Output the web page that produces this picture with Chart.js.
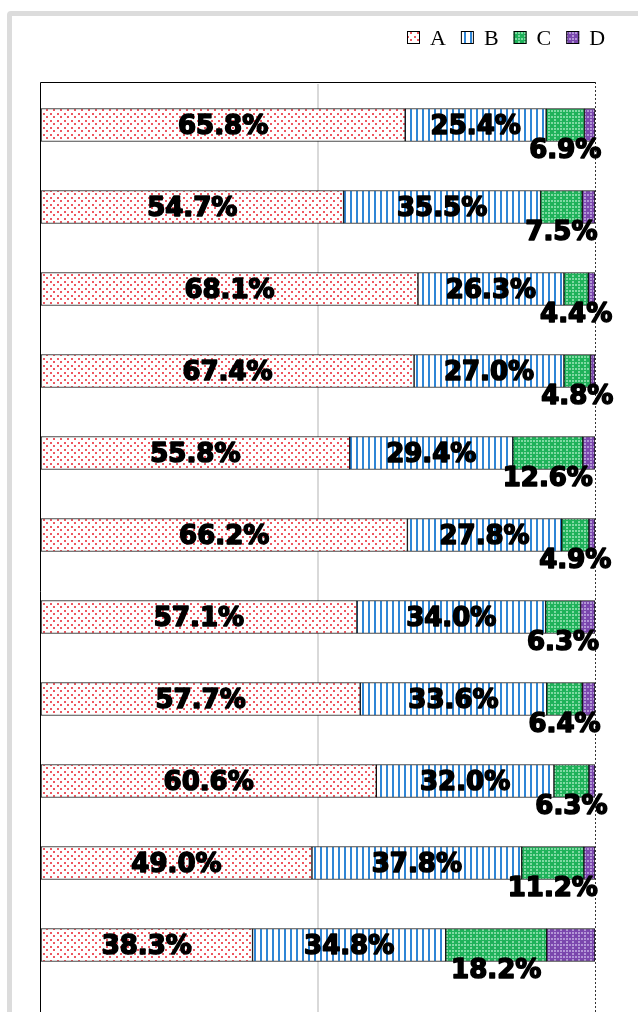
<!DOCTYPE html>
<html>
<head>
<meta charset="utf-8">
<script src="https://cdn.jsdelivr.net/npm/chart.js@4.4.0/dist/chart.umd.min.js"></script>
<style>
  html, body { margin: 0; padding: 0; background: #fff; overflow: hidden; width: 638px; height: 1012px; }
  #frame { position: absolute; left: 7px; top: 11px; width: 700px; height: 1100px; border: 5px solid #dcdcdc; border-radius: 4px; }
  #chart { position: absolute; left: 0; top: 0; }
</style>
</head>
<body>
<div id="frame"></div>
<canvas id="chart" width="638" height="1100"></canvas>
<script>
// данные (последняя строка пустая - график обрезан снизу)
const categories = ['1', '2', '3', '4', '5', '6', '7', '8', '9', '10', '11', ''];
const seriesNames = ['A', 'B', 'C', 'D'];
const valuesA = [65.8, 54.7, 68.1, 67.4, 55.8, 66.2, 57.1, 57.7, 60.6, 49.0, 38.3, null];
const valuesB = [25.4, 35.5, 26.3, 27.0, 29.4, 27.8, 34.0, 33.6, 32.0, 37.8, 34.8, null];
const valuesC = [6.9, 7.5, 4.4, 4.8, 12.6, 4.9, 6.3, 6.4, 6.3, 11.2, 18.2, null];
const valuesD = [1.9, 2.3, 1.2, 0.8, 2.2, 1.1, 2.6, 2.3, 1.1, 2.0, 8.7, null];

// Узоры заливки
function makePattern(size, draw) {
  const c = document.createElement('canvas');
  c.width = size; c.height = size;
  const g = c.getContext('2d');
  draw(g);
  return document.getElementById('chart').getContext('2d').createPattern(c, 'repeat');
}

const patA = makePattern(7, g => {
  g.fillStyle = '#fff'; g.fillRect(0, 0, 7, 7);
  g.fillStyle = 'rgba(236, 70, 80, 0.9)';
  g.fillRect(1, 1, 2, 2);
  g.fillRect(4, 4, 2, 2);
});
const patB = makePattern(6, g => {
  g.fillStyle = '#fff'; g.fillRect(0, 0, 6, 6);
  g.fillStyle = '#2f86d6';
  g.fillRect(2, 0, 2, 6);
});
const patC = makePattern(6, g => {
  g.fillStyle = '#1fb25a'; g.fillRect(0, 0, 6, 6);
  g.fillStyle = '#7ed9a2';
  g.fillRect(2, 0, 2, 1); g.fillRect(0, 2, 1, 2); g.fillRect(5, 2, 1, 2); g.fillRect(2, 5, 2, 1);
  g.fillRect(2, 2, 2, 2);
});
const patD = makePattern(6, g => {
  g.fillStyle = '#7a47ad'; g.fillRect(0, 0, 6, 6);
  g.fillStyle = '#b295d6';
  g.fillRect(2, 0, 2, 1); g.fillRect(0, 2, 1, 2); g.fillRect(5, 2, 1, 2); g.fillRect(2, 5, 2, 1);
  g.fillRect(2, 2, 2, 2);
});
const patterns = [patA, patB, patC, patD];

const labelFont = 'bold 26px "DejaVu Sans"';

// Подписи значений: A, B по центру, C ниже полосы
const valueLabels = {
  id: 'valueLabels',
  afterDatasetsDraw(chart) {
    const ctx = chart.ctx;
    ctx.save();
    ctx.font = labelFont;
    ctx.fillStyle = '#000';
    ctx.strokeStyle = '#000';
    ctx.lineWidth = 1.6;
    ctx.lineJoin = 'round';
    ctx.textAlign = 'center';
    ctx.textBaseline = 'middle';
    [0, 1, 2].forEach(di => {
      const meta = chart.getDatasetMeta(di);
      const data = chart.data.datasets[di].data;
      meta.data.forEach((bar, i) => {
        if (data[i] == null) return;
        const cx = (bar.x + bar.base) / 2;
        const dy = di === 2 ? 26 : 2;
        const txt = data[i].toFixed(1) + '%';
        ctx.strokeText(txt, cx, bar.y + dy);
        ctx.fillText(txt, cx, bar.y + dy);
      });
    });
    ctx.restore();
  }
};

// Рамка области построения и легенда
const frameTop = 82;
const frameAndLegend = {
  id: 'frameAndLegend',
  beforeDatasetsDraw(chart) {
    const { ctx, chartArea: a } = chart;
    ctx.save();
    ctx.strokeStyle = '#000';
    ctx.lineWidth = 1;
    ctx.beginPath();
    ctx.moveTo(a.left + 0.5, chart.height);
    ctx.lineTo(a.left + 0.5, frameTop + 0.5);
    ctx.lineTo(a.right + 0.5, frameTop + 0.5);
    ctx.stroke();
    ctx.setLineDash([2, 2]);
    ctx.strokeStyle = '#333';
    ctx.beginPath();
    ctx.moveTo(a.right + 0.5, frameTop);
    ctx.lineTo(a.right + 0.5, chart.height);
    ctx.stroke();
    ctx.restore();
  },
  afterDraw(chart) {
    const ctx = chart.ctx;
    ctx.save();
    ctx.font = '22px "Liberation Serif"';
    ctx.textBaseline = 'middle';
    let x = 407;
    const y = 37;
    chart.data.datasets.forEach((ds, i) => {
      ctx.fillStyle = ds.backgroundColor;
      ctx.fillRect(x, y - 6, 13, 13);
      ctx.strokeStyle = '#000';
      ctx.lineWidth = 1;
      ctx.strokeRect(x + 0.5, y - 5.5, 12, 12);
      ctx.fillStyle = '#000';
      ctx.fillText(ds.label, x + 23, y + 2);
      x += 23 + ctx.measureText(ds.label).width + 15;
    });
    ctx.restore();
  }
};

new Chart(document.getElementById('chart'), {
  type: 'bar',
  data: {
    labels: categories,
    datasets: [valuesA, valuesB, valuesC, valuesD].map((vals, i) => ({
      label: seriesNames[i],
      data: vals,
      backgroundColor: patterns[i],
      borderColor: '#111',
      borderWidth: 1,
      borderSkipped: false,
      barThickness: 33
    }))
  },
  options: {
    indexAxis: 'y',
    responsive: false,
    animation: false,
    devicePixelRatio: 1,
    layout: { padding: { left: 40, top: 84, right: 43, bottom: 32 } },
    plugins: {
      legend: { display: false },
      tooltip: { enabled: false }
    },
    scales: {
      x: {
        stacked: true,
        min: 0,
        max: 100,
        ticks: { display: false, stepSize: 50 },
        grid: {
          drawTicks: false,
          lineWidth: 2,
          color: c => c.tick && c.tick.value === 50 ? '#d9d9d9' : 'rgba(0,0,0,0)'
        },
        border: { display: false }
      },
      y: {
        stacked: true,
        ticks: { display: false },
        grid: { display: false, drawTicks: false },
        border: { display: false }
      }
    }
  },
  plugins: [frameAndLegend, valueLabels]
});
</script>
</body>
</html>
